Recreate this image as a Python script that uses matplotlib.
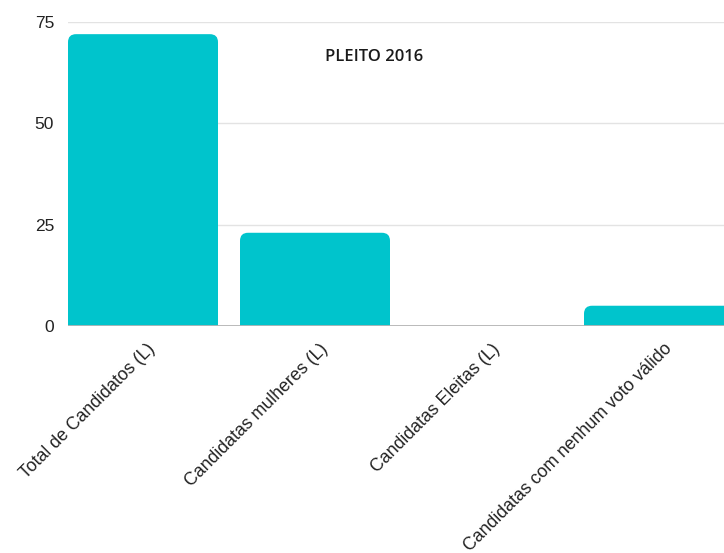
import matplotlib
matplotlib.use("Agg")
import matplotlib.pyplot as plt
from matplotlib.patches import FancyBboxPatch
import matplotlib.transforms as mtransforms

categories = ["Total de Candidatos (L)", "Candidatas mulheres (L)",
              "Candidatas Eleitas (L)", "Candidatas com nenhum voto válido"]
values = [72, 23, 0, 5]
yticks = [0, 25, 50, 75]
title = "PLEITO 2016"

BAR_COLOR = "#00C4CC"
W, H, DPI = 7.24, 5.53, 100

fig = plt.figure(figsize=(W, H), dpi=DPI)
left_px, bottom_px, top_px = 68, 326, 22
ax = fig.add_axes([left_px / 724, 1 - bottom_px / 553, 1 - left_px / 724,
                   (bottom_px - top_px) / 553])

bar_w = 150 / 172
x = list(range(len(categories)))
ax.set_xlim(-bar_w / 2, (724 - 143) / 172)
ax.set_ylim(0, 75)

bars = ax.bar(x, values, width=bar_w, color=BAR_COLOR, alpha=0)

# convert to rounded-top bars
fig.canvas.draw()
px_per_x = ax.transData.transform((1, 0))[0] - ax.transData.transform((0, 0))[0]
px_per_y = ax.transData.transform((0, 1))[1] - ax.transData.transform((0, 0))[1]
aspect = px_per_x / px_per_y
r_px = 8
r = r_px / px_per_x
for b in bars:
    bx, bw, bh = b.get_x(), b.get_width(), b.get_height()
    ext = r * aspect * 1.5
    p = FancyBboxPatch((bx, -ext), bw, bh + ext,
                       boxstyle=f"round,pad=0,rounding_size={r}",
                       mutation_aspect=aspect, facecolor=BAR_COLOR,
                       edgecolor="none", zorder=2)
    ax.add_patch(p)

ax.set_yticks(yticks)
ax.set_yticklabels([str(v) for v in yticks], fontsize=12.5,
                   family="Liberation Sans", color="#222222")
ax.yaxis.grid(True, color="#e3e3e3", lw=1)
ax.set_axisbelow(True)
ax.tick_params(axis="y", length=0, pad=10)
ax.tick_params(axis="x", length=0, pad=8)
ax.axhline(0, color="#b5b5b5", lw=1.3, zorder=3)
for s in ax.spines.values():
    s.set_visible(False)

ax.set_xticks(x)
ax.set_xticklabels(categories, rotation=45, ha="right", va="center",
                   rotation_mode="anchor", fontsize=12.8,
                   family="Liberation Sans", color="#222222")
offset = mtransforms.ScaledTranslation(10 / DPI, -9 / DPI, fig.dpi_scale_trans)
for lbl in ax.get_xticklabels():
    lbl.set_transform(lbl.get_transform() + offset)

ax.text(0.466, 0.885, title, transform=ax.transAxes, ha="center", va="center",
        fontsize=12, fontweight="semibold", family="Open Sans", color="#1a1a1a")

fig.savefig("out.png", dpi=DPI)
